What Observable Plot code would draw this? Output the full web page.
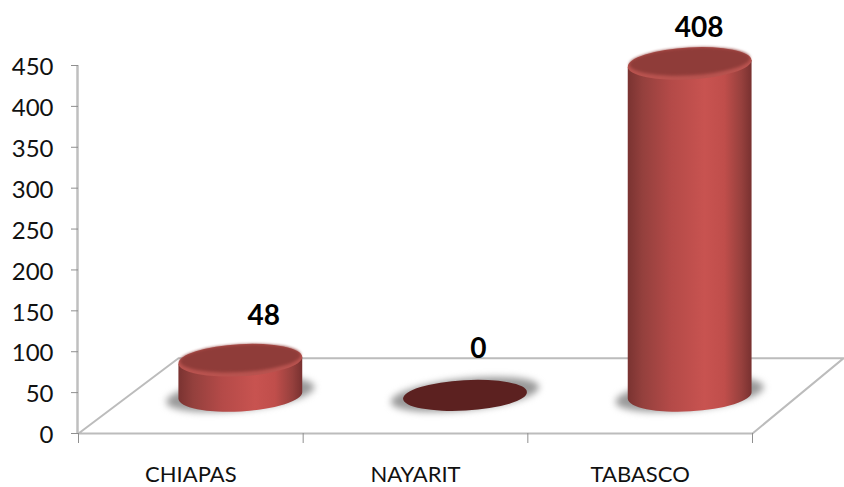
<!DOCTYPE html>
<html><head><meta charset="utf-8">
<script src="https://cdn.jsdelivr.net/npm/d3@7"></script>
<script src="https://cdn.jsdelivr.net/npm/@observablehq/plot@0.6"></script>
<style>html,body{margin:0;padding:0;background:#fff}svg{display:block}</style>
</head><body><div id="chart"></div>
<script>
const categories = ["CHIAPAS", "NAYARIT", "TABASCO"];
const values = [48, 0, 408];
const yTicks = [0, 50, 100, 150, 200, 250, 300, 350, 400, 450];
const floorX = [0, 0.445, 3.405, 3, 0];
const floorY = [0, 92, 92, 0, 0];

// pseudo-3D depth of the floor, in scale units
const depthX = 0.2225, baseY = 46, topBaseY = 40.6, heightGain = 1.008, radX = 0.276, radY = 19.6, tilt = 3.2, shadowTilt = 6;
const nudges = [[23, -45], [13, -47], [9, -36]];

const rows = categories.map((c, i) => ({
  c, v: values[i], x: i + 0.5 + depthX, base: baseY,
  top: values[i] > 0 ? topBaseY + values[i] * heightGain : baseY
}));

function shape(data, build, attrs) {
  return Plot.dot(data, {
    x: "x", y: "top",
    render(I, s, v, dim, ctx) {
      const g = d3.create("svg:g");
      const p = g.selectAll("path").data(I).join("path").attr("d", i => build(data[i], s));
      for (const k in attrs) p.style(k, attrs[k]);
      return g.node();
    }
  });
}
function ell(cx, cy, rx, ry, deg) {
  const t = deg * Math.PI / 180;
  const ax = rx * Math.cos(t), ay = rx * Math.sin(t);
  return `M${cx - ax},${cy + ay}A${rx},${ry} ${-deg} 1 0 ${cx + ax},${cy - ay}A${rx},${ry} ${-deg} 1 0 ${cx - ax},${cy + ay}Z`;
}
const ellAt = (yKey, grow = 1, ryGrow = 1, shift = 0, deg = tilt) => (d, s) => {
  const rx = (s.x(d.x + radX) - s.x(d.x)) * grow;
  const ry = (s.y(0) - s.y(radY)) * ryGrow;
  return ell(s.x(d.x), s.y(d[yKey]) + shift, rx, ry, deg);
};
const body = (d, s) => {
  const t = tilt * Math.PI / 180;
  const cx = s.x(d.x), rx = s.x(d.x + radX) - cx;
  const ry = s.y(0) - s.y(radY);
  const ax = rx * Math.cos(t), ay = rx * Math.sin(t);
  const yb = s.y(d.base), yt = s.y(d.top);
  return `M${cx - ax},${yt + ay}L${cx - ax},${yb + ay}A${rx},${ry} ${-tilt} 0 0 ${cx + ax},${yb - ay}L${cx + ax},${yt - ay}Z`;
};

const solid = rows.filter(d => d.v > 0), flat = rows.filter(d => d.v === 0);

const defs = () => {
  const d = d3.create("svg:defs");
  const g = d.append("linearGradient").attr("id", "side").attr("x1", 0).attr("x2", 1).attr("y1", 0).attr("y2", 0);
  [[0, "#7a3331"], [0.12, "#94403d"], [0.35, "#b44a48"], [0.62, "#c85350"], [0.78, "#c04e4b"], [0.92, "#96403d"], [1, "#783130"]]
    .forEach(([o, c]) => g.append("stop").attr("offset", o).attr("stop-color", c));
  return d.node();
};

const chart = Plot.plot({
  width: 844, height: 487,
  marginLeft: 78, marginRight: 92, marginTop: 65, marginBottom: 54,
  x: {domain: [0, 3], axis: null},
  y: {domain: [0, 450], axis: null},
  style: {fontFamily: "Lato", background: "#fff", overflow: "visible"},
  marks: [
    defs,
    Plot.line(floorX.map((x, i) => ({x, y: floorY[i]})), {x: "x", y: "y", stroke: "#bcbcbc", strokeWidth: 2}),
    Plot.ruleX([0], {y1: 0, y2: 450, stroke: "#bfbfbf", strokeWidth: 2.5, dx: -1}),
    Plot.axisY({ticks: yTicks, tickSize: 7, stroke: "#8f8f8f", text: null, label: null, anchor: "left"}),
    Plot.axisY({ticks: yTicks, tickSize: 0, tickPadding: 25, dy: 2, fill: "#111", fontSize: 24, label: null, anchor: "left"}),
    Plot.axisX({ticks: [0, 1, 2, 3], tickSize: 10, tickFormat: () => "", stroke: "#8f8f8f", label: null, anchor: "bottom"}),
    Plot.axisX({ticks: [0.5, 1.5, 2.5], tickSize: 0, tickPadding: 33, tickFormat: v => categories[v - 0.5], fontSize: 22, fill: "#111", label: null, anchor: "bottom"}),
    shape(rows, ellAt("base", 1.2, 0.98, -1, shadowTilt), {fill: "#999", filter: "blur(3.5px)"}),
    shape(solid, body, {fill: "url(#side)", filter: "blur(0.4px)"}),
    shape(solid, ellAt("top", 1, 1), {fill: "#b9534f", filter: "blur(0.4px)"}),
    shape(solid, ellAt("top", 0.975, 0.86, -2), {fill: "#8f3c39", filter: "blur(1.5px)"}),
    shape(flat, ellAt("top", 1, 0.95), {fill: "#5c2120", filter: "blur(0.6px)"}),
    ...rows.map((d, i) => Plot.text([d], {
      x: "x", y: "top", text: e => String(e.v), dx: nudges[i][0], dy: nudges[i][1],
      fontSize: 28, fontWeight: 700, fill: "#000"
    }))
  ]
});
document.getElementById("chart").append(chart);
</script></body></html>
